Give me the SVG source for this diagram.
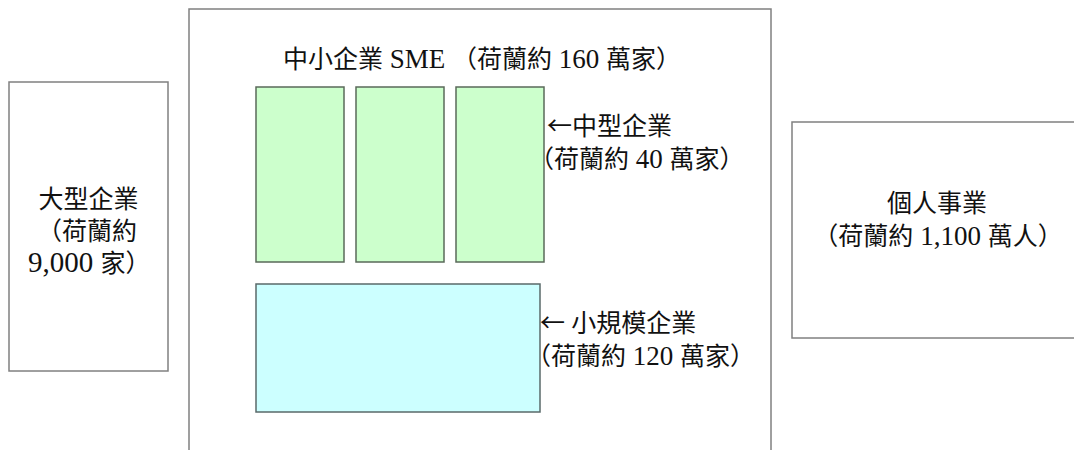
<svg xmlns="http://www.w3.org/2000/svg" width="1074" height="450" viewBox="0 0 1074 450">
<style>
.box{fill:#fff;stroke:#808080;stroke-width:1.5}
.g{fill:#ccffcc;stroke:#5a6a5a;stroke-width:1.5}
.c{fill:#ccffff;stroke:#5a6a6a;stroke-width:1.5}
text{font-family:"Liberation Serif","Noto Sans CJK TC",serif;font-size:25px;fill:#111}
.l{font-size:27px}
.l2{font-size:29px}
.ar{font-family:"Noto Sans CJK TC",sans-serif}
</style>
<rect width="1074" height="450" fill="#fff"/>
<g id="large">
<rect class="box" x="9" y="82" width="159" height="289"/>
<text x="88.5" y="208" text-anchor="middle">大型企業</text>
<text x="37" y="240">（荷蘭約</text>
<text x="28" y="272"><tspan class="l2">9,000 </tspan>家）</text>
</g>
<g id="sme">
<rect class="box" x="189" y="9" width="582" height="460"/>
<text x="283" y="68">中小企業<tspan class="l"> SME </tspan>（荷蘭約<tspan class="l"> 160 </tspan>萬家）</text>
</g>
<g id="medium">
<rect class="g" x="256" y="87" width="88" height="175"/>
<rect class="g" x="356" y="87" width="88" height="175"/>
<rect class="g" x="456" y="87" width="88" height="175"/>
<text x="547" y="135"><tspan class="ar">←</tspan>中型企業</text>
<text x="529" y="168">（荷蘭約<tspan class="l"> 40 </tspan>萬家）</text>
</g>
<g id="small">
<rect class="c" x="256" y="284" width="284" height="128"/>
<text x="540" y="332"><tspan class="ar">←</tspan> 小規模企業</text>
<text x="526" y="365">（荷蘭約<tspan class="l"> 120 </tspan>萬家）</text>
</g>
<g id="individual">
<rect class="box" x="792" y="122" width="290" height="216"/>
<text x="937" y="212" text-anchor="middle">個人事業</text>
<text x="938" y="245" text-anchor="middle">（荷蘭約<tspan class="l"> 1,100 </tspan>萬人）</text>
</g>
<g id="connectors"></g>
</svg>
